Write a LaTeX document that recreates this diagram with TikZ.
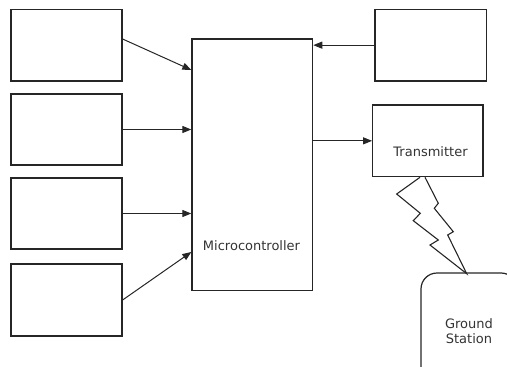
\documentclass[tikz,border=0pt]{standalone}
\usepackage{fontspec}
\setmainfont{DejaVu Sans}
\usetikzlibrary{arrows.meta,calc}
\begin{document}
\begin{tikzpicture}[x=1pt,y=-1pt,
 box/.style={draw=black!85, line width=1.2pt, inner sep=0pt},
 txt/.style={font=\fontsize{13}{15.5}\selectfont, text=black!80, inner sep=0pt, align=center},
 arr/.style={draw=black!85, line width=1pt, -{Triangle[length=9pt,width=7pt]}},
 bolt/.style={draw=black!85, line width=1.1pt, line join=miter}]
\useasboundingbox (0,0) rectangle (507,367);
\node[box, minimum width=111pt, minimum height=71.5pt] (b1) at (66.5,45.25) {};
\node[box, minimum width=111pt, minimum height=71pt] (b2) at (66.5,129.5) {};
\node[box, minimum width=111pt, minimum height=71pt] (b3) at (66.5,213.5) {};
\node[box, minimum width=111pt, minimum height=72pt] (b4) at (66.5,300) {};
\node[box, minimum width=120.7pt, minimum height=251.7pt] (mc) at (252.3,164.85) {};
\node[txt, anchor=base] (mctext) at (251.5,250) {Microcontroller};
\node[box, minimum width=111.7pt, minimum height=71.7pt] (r1) at (430.85,45.15) {};
\node[box, minimum width=110.3pt, minimum height=71.7pt] (tx) at (427.85,140.85) {};
\node[txt, anchor=base] (txtext) at (430.5,156) {Transmitter};
\node[box, txt, rounded corners=16pt, minimum width=96pt, minimum height=116pt] (gs) at (469,331) {Ground\\Station};
% connectors
\draw[arr] ([yshift=6.25pt]b1.east) -- ([yshift=94.85pt]mc.west);
\draw[arr] (b2.east) -- (b2.east -| mc.west);
\draw[arr] (b3.east) -- (b3.east -| mc.west);
\draw[arr] (b4.east) -- ([yshift=-87.15pt]mc.west);
\draw[arr] (r1.west) -- (r1.west -| mc.east);
\draw[arr] (mc.east |- tx.west) -- (tx.west);
% lightning bolt
\draw[bolt] ([xshift=-7.85pt]tx.south) -- (396.7,194) -- (420.3,213.3) -- (413.3,220.7)
  -- (438.3,240) -- (430,245) -- ([xshift=-2.3pt,yshift=-1.3pt]gs.north)
  -- (447.7,235) -- (453.3,231.7) -- (434.3,208.3) -- (438.3,203.3)
  -- ([xshift=-2.85pt]tx.south);
\end{tikzpicture}
\end{document}
